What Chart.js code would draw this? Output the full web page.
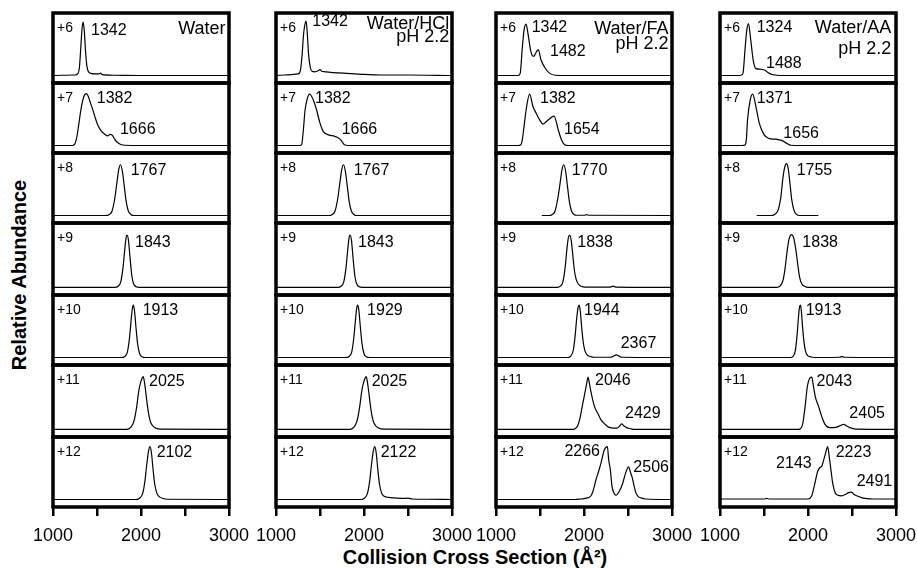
<!DOCTYPE html>
<html>
<head>
<meta charset="utf-8">
<script src="https://cdn.jsdelivr.net/npm/chart.js@4.4.1/dist/chart.umd.min.js"></script>
<style>
body{margin:0;background:#fff;width:917px;height:571px;position:relative;overflow:hidden;font-family:"Liberation Sans",Arial,sans-serif}
.cell{position:absolute}
#ytitle{position:absolute;left:19px;top:275px;transform:translate(-50%,-50%) rotate(-90deg);font-weight:bold;font-size:20px;white-space:nowrap}
#xtitle{position:absolute;left:475px;top:557px;transform:translate(-50%,-50%);font-weight:bold;font-size:20px;white-space:nowrap}
</style>
</head>
<body>
<div id="ytitle">Relative Abundance</div>
<div id="xtitle">Collision Cross Section (Å²)</div>
<script>
// ---- data ----
const ccsTicks=[1000,1500,2000,2500,3000];
const ccsTickLabels=['1000','','2000','','3000'];
const charges=['+6','+7','+8','+9','+10','+11','+12'];
const solvents=[['Water'],['Water/HCl','pH 2.2'],['Water/FA','pH 2.2'],['Water/AA','pH 2.2']];

// Water
const w6=[[1000,0],[1250,0.01],[1280,0.03],[1300,0.15],[1315,0.5],[1330,0.88],[1342,1],[1355,0.85],[1370,0.45],[1385,0.18],[1400,0.08],[1430,0.04],[1480,0.03],[1520,0.03],[1540,0.045],[1560,0.015],[1700,0.005],[2000,0],[3000,0]];
const w7=[[1000,0],[1220,0],[1245,0.02],[1270,0.15],[1295,0.42],[1315,0.65],[1340,0.86],[1365,0.96],[1382,0.97],[1400,0.92],[1425,0.8],[1450,0.68],[1480,0.52],[1510,0.38],[1550,0.27],[1590,0.21],[1620,0.18],[1650,0.21],[1675,0.19],[1700,0.12],[1730,0.06],[1770,0.02],[1820,0.005],[2000,0],[3000,0]];
const w8=[[1000,0],[1600,0],[1640,0.02],[1670,0.08],[1700,0.3],[1725,0.6],[1747,0.86],[1767,0.95],[1789,0.82],[1810,0.55],[1830,0.28],[1855,0.09],[1885,0.02],[1920,0],[3000,0]];
const w9=[[1000,0],[1700,0],[1740,0.02],[1770,0.1],[1795,0.35],[1815,0.68],[1830,0.9],[1843,0.95],[1858,0.85],[1875,0.55],[1895,0.22],[1915,0.07],[1945,0.01],[1980,0],[3000,0]];
const w10=[[1000,0],[1780,0],[1815,0.02],[1845,0.1],[1870,0.38],[1888,0.7],[1902,0.92],[1913,0.98],[1926,0.88],[1942,0.58],[1962,0.25],[1985,0.07],[2015,0.01],[2050,0],[3000,0]];
const w11=[[1000,0],[1840,0],[1880,0.03],[1920,0.15],[1950,0.4],[1975,0.7],[1995,0.85],[2012,0.93],[2025,0.96],[2040,0.85],[2060,0.6],[2080,0.35],[2105,0.15],[2135,0.06],[2170,0.02],[2220,0.005],[3000,0]];
const w12=[[1000,0],[1940,0],[1980,0.02],[2020,0.12],[2045,0.35],[2065,0.65],[2085,0.9],[2102,0.99],[2118,0.88],[2135,0.6],[2155,0.3],[2180,0.12],[2210,0.05],[2250,0.02],[2300,0.005],[3000,0]];

// Water/HCl
const h6=[[1000,0],[1100,0.01],[1200,0.02],[1250,0.03],[1275,0.08],[1295,0.35],[1312,0.75],[1328,0.95],[1342,1.02],[1356,0.78],[1370,0.4],[1390,0.15],[1410,0.08],[1440,0.07],[1480,0.09],[1500,0.11],[1520,0.08],[1560,0.07],[1620,0.06],[1700,0.05],[1800,0.04],[1900,0.03],[2000,0.02],[2200,0.01],[2500,0.01],[3000,0]];
const h7=[[1000,0],[1270,0],[1292,0.02],[1311,0.29],[1330,0.66],[1356,0.88],[1382,0.96],[1424,0.85],[1462,0.66],[1500,0.42],[1538,0.26],[1595,0.2],[1670,0.17],[1727,0.12],[1760,0.05],[1784,0.01],[1850,0],[3000,0]];
const h8=[[1000,0],[1600,0],[1640,0.02],[1670,0.08],[1700,0.3],[1725,0.6],[1747,0.86],[1767,0.95],[1789,0.82],[1810,0.55],[1830,0.28],[1855,0.09],[1885,0.02],[1920,0],[3000,0]];
const h9=[[1000,0],[1700,0],[1740,0.02],[1770,0.1],[1795,0.35],[1815,0.68],[1830,0.9],[1843,0.95],[1858,0.85],[1875,0.55],[1895,0.22],[1915,0.07],[1945,0.01],[1980,0],[3000,0]];
const h10=[[1000,0],[1795,0],[1830,0.02],[1860,0.1],[1885,0.38],[1903,0.7],[1917,0.92],[1929,0.98],[1942,0.88],[1958,0.58],[1978,0.25],[2000,0.07],[2030,0.01],[2065,0],[3000,0]];
const h11=[[1000,0],[1840,0],[1880,0.03],[1920,0.15],[1950,0.4],[1975,0.7],[1995,0.85],[2012,0.93],[2025,0.96],[2040,0.85],[2060,0.6],[2080,0.35],[2105,0.15],[2135,0.06],[2170,0.02],[2220,0.005],[3000,0]];
const h12=[[1000,0],[1960,0],[2000,0.02],[2040,0.12],[2065,0.35],[2085,0.65],[2105,0.9],[2122,0.99],[2138,0.88],[2155,0.6],[2175,0.3],[2200,0.12],[2230,0.06],[2280,0.04],[2350,0.03],[2450,0.02],[2500,0.025],[2550,0.01],[2700,0.005],[3000,0]];

// Water/FA
const f6=[[1000,0],[1250,0],[1275,0.04],[1297,0.48],[1319,0.85],[1342,0.96],[1365,0.77],[1391,0.49],[1410,0.38],[1430,0.36],[1455,0.43],[1470,0.47],[1482,0.48],[1510,0.3],[1554,0.15],[1611,0.04],[1676,0.005],[1800,0],[3000,0]];
const f7=[[1000,0],[1250,0],[1280,0.01],[1300,0.12],[1318,0.35],[1348,0.73],[1382,0.96],[1420,0.73],[1458,0.6],[1496,0.48],[1534,0.4],[1572,0.45],[1610,0.5],[1640,0.54],[1660,0.55],[1708,0.29],[1746,0.1],[1784,0.01],[1822,0],[3000,0]];
const f8=[[1520,0],[1600,0],[1640,0.02],[1670,0.08],[1700,0.3],[1728,0.6],[1750,0.86],[1770,0.95],[1792,0.82],[1812,0.55],[1832,0.28],[1857,0.09],[1887,0.02],[1920,0.005],[2000,0.005],[2030,0.015],[2060,0.005],[3000,0]];
const f9=[[1000,0],[1700,0],[1730,0.02],[1760,0.1],[1785,0.35],[1805,0.68],[1822,0.9],[1838,0.95],[1855,0.85],[1872,0.6],[1890,0.32],[1910,0.15],[1935,0.06],[1970,0.02],[2010,0.005],[2300,0.005],[2330,0.02],[2360,0.005],[3000,0]];
const f10=[[1000,0],[1820,0],[1850,0.03],[1880,0.15],[1900,0.42],[1918,0.75],[1932,0.93],[1944,0.98],[1957,0.88],[1972,0.6],[1990,0.3],[2010,0.13],[2035,0.05],[2070,0.02],[2120,0.005],[2300,0.005],[2340,0.03],[2367,0.05],[2395,0.03],[2430,0.005],[3000,0]];
const f11=[[1000,0],[1880,0],[1898,0.01],[1930,0.07],[1955,0.21],[1978,0.4],[2000,0.58],[2030,0.83],[2046,0.95],[2060,0.85],[2076,0.71],[2106,0.49],[2125,0.39],[2163,0.27],[2190,0.18],[2220,0.12],[2260,0.06],[2295,0.03],[2370,0.02],[2400,0.05],[2428,0.1],[2455,0.06],[2485,0.03],[2530,0.01],[2560,0],[3000,0]];
const f12=[[1000,0],[1900,0],[1960,0.01],[2040,0.03],[2080,0.07],[2110,0.2],[2136,0.37],[2165,0.52],[2193,0.68],[2231,0.93],[2266,0.99],[2280,0.75],[2300,0.55],[2318,0.25],[2340,0.12],[2363,0.08],[2400,0.15],[2439,0.3],[2470,0.48],[2506,0.61],[2530,0.5],[2545,0.43],[2570,0.25],[2591,0.12],[2620,0.05],[2648,0.03],[2700,0.01],[3000,0]];

// Water/AA
const a6=[[1000,0],[1200,0],[1245,0.01],[1262,0.05],[1284,0.48],[1303,0.83],[1324,0.97],[1349,0.67],[1379,0.27],[1409,0.13],[1455,0.12],[1488,0.11],[1511,0.1],[1549,0.05],[1590,0.02],[1625,0.01],[1700,0],[3000,0]];
const a7=[[1000,0],[1250,0],[1283,0.01],[1300,0.12],[1313,0.48],[1343,0.85],[1371,0.96],[1408,0.73],[1446,0.42],[1502,0.2],[1559,0.13],[1600,0.12],[1635,0.12],[1660,0.11],[1692,0.1],[1749,0.05],[1805,0.005],[1900,0],[3000,0]];
const a8=[[1417,0],[1580,0],[1620,0.02],[1660,0.1],[1690,0.33],[1715,0.7],[1735,0.9],[1755,0.97],[1775,0.88],[1795,0.6],[1815,0.3],[1840,0.1],[1870,0.02],[1900,0],[2117,0]];
const a9=[[1000,0],[1650,0],[1680,0.02],[1715,0.12],[1740,0.35],[1760,0.62],[1785,0.88],[1815,0.96],[1840,0.88],[1865,0.65],[1885,0.4],[1905,0.18],[1930,0.06],[1960,0.02],[2000,0],[3000,0]];
const a10=[[1000,0],[1800,0],[1830,0.02],[1855,0.12],[1875,0.4],[1890,0.72],[1902,0.93],[1913,0.98],[1924,0.88],[1938,0.58],[1955,0.28],[1975,0.1],[2000,0.03],[2040,0.01],[2100,0],[2360,0.005],[2385,0.02],[2410,0.005],[3000,0]];
const a11=[[1000,0],[1890,0],[1915,0.01],[1940,0.1],[1966,0.4],[1992,0.77],[2020,0.93],[2043,0.95],[2060,0.8],[2085,0.58],[2117,0.43],[2155,0.24],[2193,0.09],[2250,0.03],[2326,0.04],[2370,0.07],[2405,0.09],[2440,0.06],[2477,0.03],[2540,0.005],[3000,0]];
const a12=[[1000,0.01],[1500,0.01],[1530,0.02],[1560,0.01],[2000,0.01],[2040,0.06],[2075,0.28],[2110,0.53],[2135,0.6],[2155,0.62],[2185,0.78],[2205,0.9],[2223,0.99],[2245,0.75],[2265,0.5],[2280,0.31],[2310,0.12],[2340,0.08],[2380,0.07],[2430,0.1],[2460,0.13],[2491,0.14],[2520,0.1],[2553,0.07],[2600,0.04],[2650,0.02],[2750,0.01],[3000,0.01]];

const curves=[[w6,w7,w8,w9,w10,w11,w12],[h6,h7,h8,h9,h10,h11,h12],[f6,f7,f8,f9,f10,f11,f12],[a6,a7,a8,a9,a10,a11,a12]];

// peak annotations (text only)
const waterPeaks=[['1342'],['1382','1666'],['1767'],['1843'],['1913'],['2025'],['2102']];
const hclPeaks=[['1342'],['1382','1666'],['1767'],['1843'],['1929'],['2025'],['2122']];
const faPeaks=[['1342','1482'],['1382','1654'],['1770'],['1838'],['1944','2367'],['2046','2429'],['2266','2506']];
const aaPeaks=[['1324','1488'],['1371','1656'],['1755'],['1838'],['1913'],['2043','2405'],['2143','2223','2491']];
const peaks=[waterPeaks,hclPeaks,faPeaks,aaPeaks];

// ---- layout ----
// where each peak label sits, [x, y, align] in data units of its panel
const spots=[
  [[[1432,0.85]],[[1497,0.87],[1761,0.3]],[[1883,0.84]],[[1932,0.82]],[[2019,0.88]],[[2091,0.86]],[[2178,0.88]]],
  [[[1412,1.0]],[[1443,0.88],[1746,0.3]],[[1883,0.84]],[[1932,0.82]],[[2035,0.88]],[[2087,0.86]],[[2190,0.88]]],
  [[[1405,0.89],[1614,0.44]],[[1500,0.88],[1773,0.3]],[[1860,0.84]],[[1924,0.82]],[[2000,0.88],[2417,0.26]],[[2125,0.88],[2466,0.28]],[[2182,0.9,'r'],[2561,0.59]]],
  [[[1417,0.9],[1523,0.22]],[[1417,0.88],[1720,0.23]],[[1871,0.84]],[[1936,0.81]],[[1974,0.87]],[[2098,0.87],[2470,0.28]],[[2042,0.67,'r'],[2315,0.88],[2553,0.33]]]
];
const solventSpots=[[2960,[0.87]],[2968,[0.96,0.72]],[2960,[0.87,0.59]],[2945,[0.88,0.5]]];

const cols=[53,276,496,720], colW=176;
const rowEdges=[13,83,153,223,295,365,437,507];
const PAD=4, AXIS_H=46, SIDE=30;
const FONT='"Liberation Sans", Arial, sans-serif';

function makePanel(c,r){
  const last = r===6;
  const h = rowEdges[r+1]-rowEdges[r];
  const div=document.createElement('div');
  div.className='cell';
  div.style.left=(cols[c]-SIDE)+'px';
  div.style.top=(rowEdges[r]-PAD)+'px';
  div.style.width=(colW+2*SIDE)+'px';
  div.style.height=(h+PAD+(last?AXIS_H:PAD))+'px';
  const cv=document.createElement('canvas');
  div.appendChild(cv);
  document.body.appendChild(div);

  const deco={
    id:'deco',
    afterDatasetsDraw(chart){
      const {ctx,chartArea:a,scales:{x,y}}=chart;
      ctx.save();
      ctx.strokeStyle='#000';
      ctx.lineWidth=3.5;
      ctx.strokeRect(a.left,a.top,a.right-a.left,a.bottom-a.top);
      ctx.fillStyle='#000';
      ctx.font='14px '+FONT;
      ctx.textAlign='left';
      ctx.textBaseline='alphabetic';
      ctx.fillText(charges[r],a.left+4,a.top+19);
      ctx.font='16px '+FONT;
      ctx.textBaseline='middle';
      peaks[c][r].forEach((t,i)=>{
        const s=spots[c][r][i];
        ctx.textAlign=s[2]==='r'?'right':'left';
        ctx.fillText(t,x.getPixelForValue(s[0]),y.getPixelForValue(s[1]));
      });
      if(r===0){
        ctx.font='18px '+FONT;
        ctx.textAlign='right';
        const sp=solventSpots[c];
        solvents[c].forEach((t,i)=>ctx.fillText(t,x.getPixelForValue(sp[0]),y.getPixelForValue(sp[1][i])));
      }
      ctx.restore();
    }
  };

  const xAxis={
    type:'linear',min:1000,max:3000,
    display:last,
    afterBuildTicks:s=>{s.ticks=ccsTicks.map(v=>({value:v}));},
    border:{display:false},
    grid:{display:true,drawOnChartArea:false,drawTicks:true,tickLength:9,lineWidth:2.5,color:'#000'},
    ticks:{
      autoSkip:false,maxRotation:0,padding:9,color:'#000',
      font:{family:FONT,size:18},
      callback:v=>ccsTickLabels[ccsTicks.indexOf(v)]
    }
  };
  if(last) xAxis.afterFit=s=>{s.height=AXIS_H;};

  new Chart(cv,{
    type:'line',
    data:{datasets:[{
      data:curves[c][r],
      borderColor:'#000',
      borderWidth:1.2,
      pointRadius:0,
      fill:false,
      cubicInterpolationMode:'monotone'
    }]},
    options:{
      responsive:true,
      maintainAspectRatio:false,
      animation:false,
      devicePixelRatio:1,
      events:[],
      layout:{padding:{left:SIDE,right:SIDE,top:PAD,bottom:last?0:PAD}},
      plugins:{legend:{display:false},tooltip:{enabled:false}},
      scales:{
        x:xAxis,
        y:{min:-0.14,max:1.17,display:false}
      }
    },
    plugins:[deco]
  });
}

for(let c=0;c<4;c++) for(let r=0;r<7;r++) makePanel(c,r);
</script>
</body>
</html>
